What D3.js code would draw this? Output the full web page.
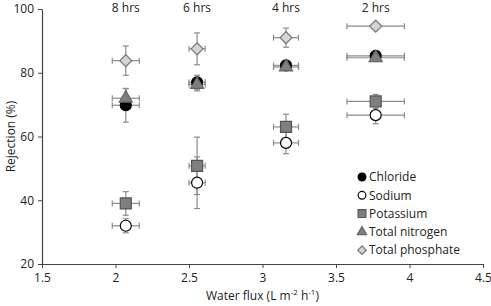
<!DOCTYPE html>
<html>
<head>
<meta charset="utf-8">
<script src="https://cdn.jsdelivr.net/npm/d3@7"></script>
<style>
  body { margin: 0; background: #fff; }
  text { font-family: "Open Sans", "Liberation Sans", sans-serif; fill: #222; }
</style>
</head>
<body>
<svg id="chart" width="491" height="306"></svg>
<script>
// Water flux per stage and its error
const fluxes = [2.07, 2.555, 3.16, 3.77];
const fluxErr = [0.092, 0.055, 0.085, 0.195];
const hourLabels = ['8 hrs', '6 hrs', '4 hrs', '2 hrs'];

// Rejection (%) per species
const chloride = [69.8, 77.0, 82.3, 85.3];
const chlorideErr = [5.3, 2.2, 0.8, 0.8];
const sodium = [32.0, 45.5, 58.0, 66.7];
const sodiumErr = [2.2, 8.1, 3.4, 2.7];
const potassium = [39.0, 50.8, 63.0, 71.0];
const potassiumErr = [3.7, 9.0, 4.0, 2.2];
const nitrogen = [72.0, 76.3, 81.8, 84.7];
const nitrogenErr = [3.0, 2.0, 0.8, 0.8];
const phosphate = [83.8, 87.5, 91.0, 94.6];
const phosphateErr = [4.6, 5.0, 3.0, 0.8];

const xTicks = [1.5, 2, 2.5, 3, 3.5, 4, 4.5];
const yTicks = [20, 40, 60, 80, 100];

const series = [
  { name: 'Chloride', values: chloride, err: chlorideErr, shape: 'circle', fill: '#000', stroke: '#000' },
  { name: 'Sodium', values: sodium, err: sodiumErr, shape: 'circle', fill: '#fff', stroke: '#000' },
  { name: 'Potassium', values: potassium, err: potassiumErr, shape: 'square', fill: '#7f7f7f', stroke: '#555' },
  { name: 'Total nitrogen', values: nitrogen, err: nitrogenErr, shape: 'triangle', fill: '#7f7f7f', stroke: '#666' },
  { name: 'Total phosphate', values: phosphate, err: phosphateErr, shape: 'diamond', fill: '#d4d4d4', stroke: '#777' }
];

const svg = d3.select('#chart');
const margin = { top: 9, right: 8, bottom: 42, left: 42 };
const width = 491 - margin.left - margin.right;
const height = 306 - margin.top - margin.bottom;

const g = svg.append('g').attr('transform', `translate(${margin.left},${margin.top})`);

const x = d3.scaleLinear().domain([1.5, 4.5]).range([0, width]);
const y = d3.scaleLinear().domain([20, 100]).range([height, 0]);

// Axes
const xAxis = g.append('g')
  .attr('transform', `translate(0,${height})`)
  .call(d3.axisBottom(x).tickValues(xTicks).tickSizeInner(4).tickSizeOuter(0).tickPadding(5).tickFormat(d3.format('')));
const yAxis = g.append('g')
  .call(d3.axisLeft(y).tickValues(yTicks).tickSizeInner(4).tickSizeOuter(0).tickPadding(4));

[xAxis, yAxis].forEach(a => {
  a.select('.domain').attr('stroke', '#444').attr('stroke-width', 1.2);
  a.selectAll('.tick line').attr('stroke', '#444');
  a.selectAll('.tick text').style('font-size', '12px').attr('fill', '#222');
});

// Axis labels
g.append('text')
  .attr('transform', 'rotate(-90)')
  .attr('x', -height / 2)
  .attr('y', -27)
  .attr('text-anchor', 'middle')
  .style('font-size', '12px')
  .text('Rejection (%)');

const xl = g.append('text')
  .attr('x', x(3))
  .attr('y', height + 36)
  .attr('text-anchor', 'middle')
  .style('font-size', '12px');
xl.append('tspan').text('Water flux (L m');
xl.append('tspan').attr('dy', -5).style('font-size', '8px').text('-2');
xl.append('tspan').attr('dy', 5).text(' h');
xl.append('tspan').attr('dy', -5).style('font-size', '8px').text('-1');
xl.append('tspan').attr('dy', 5).text(')');

// Stage labels
g.selectAll('.hrs')
  .data(hourLabels)
  .enter()
  .append('text')
  .attr('class', 'hrs')
  .attr('x', (d, i) => x(fluxes[i]))
  .attr('y', 3)
  .attr('text-anchor', 'middle')
  .style('font-size', '12px')
  .text(d => d);

// Error bars
const cap = 3;
const errColor = '#8c8c8c';
series.forEach(s => {
  s.values.forEach((v, i) => {
    const cx = x(fluxes[i]);
    const cy = y(v);
    const eb = g.append('g').attr('stroke', errColor).attr('stroke-width', 1.2).attr('fill', 'none');
    const x0 = x(fluxes[i] - fluxErr[i]);
    const x1 = x(fluxes[i] + fluxErr[i]);
    eb.append('line').attr('x1', x0).attr('x2', x1).attr('y1', cy).attr('y2', cy);
    eb.append('line').attr('x1', x0).attr('x2', x0).attr('y1', cy - cap).attr('y2', cy + cap);
    eb.append('line').attr('x1', x1).attr('x2', x1).attr('y1', cy - cap).attr('y2', cy + cap);
    const y0 = y(v - s.err[i]);
    const y1 = y(v + s.err[i]);
    eb.append('line').attr('x1', cx).attr('x2', cx).attr('y1', y0).attr('y2', y1);
    eb.append('line').attr('x1', cx - cap).attr('x2', cx + cap).attr('y1', y0).attr('y2', y0);
    eb.append('line').attr('x1', cx - cap).attr('x2', cx + cap).attr('y1', y1).attr('y2', y1);
  });
});

// Marker paths
function markerPath(shape, scale = 1) {
  if (shape === 'circle') return d3.symbol(d3.symbolCircle, 95 * scale)();
  if (shape === 'square') return d3.symbol(d3.symbolSquare, 121 * scale)();
  if (shape === 'triangle') return d3.symbol(d3.symbolTriangle, 75 * scale)();
  return d3.symbol(d3.symbolSquare, 72 * scale)();
}

function drawMarker(sel, s, scale = 1) {
  sel.append('path')
    .attr('d', markerPath(s.shape, scale))
    .attr('transform', s.shape === 'diamond' ? 'rotate(45)' : null)
    .attr('fill', s.fill)
    .attr('stroke', s.stroke)
    .attr('stroke-width', 1.2);
}

series.forEach(s => {
  s.values.forEach((v, i) => {
    const m = g.append('g').attr('transform', `translate(${x(fluxes[i])},${y(v)})`);
    drawMarker(m, s);
  });
});

// Legend
const legend = svg.append('g').attr('transform', 'translate(362,177)');
series.forEach((s, i) => {
  const row = legend.append('g').attr('transform', `translate(0,${i * 18.3})`);
  drawMarker(row, s, 0.5);
  row.append('text')
    .attr('x', 7)
    .attr('dy', '0.35em')
    .style('font-size', '12px')
    .text(s.name);
});
</script>
</body>
</html>
